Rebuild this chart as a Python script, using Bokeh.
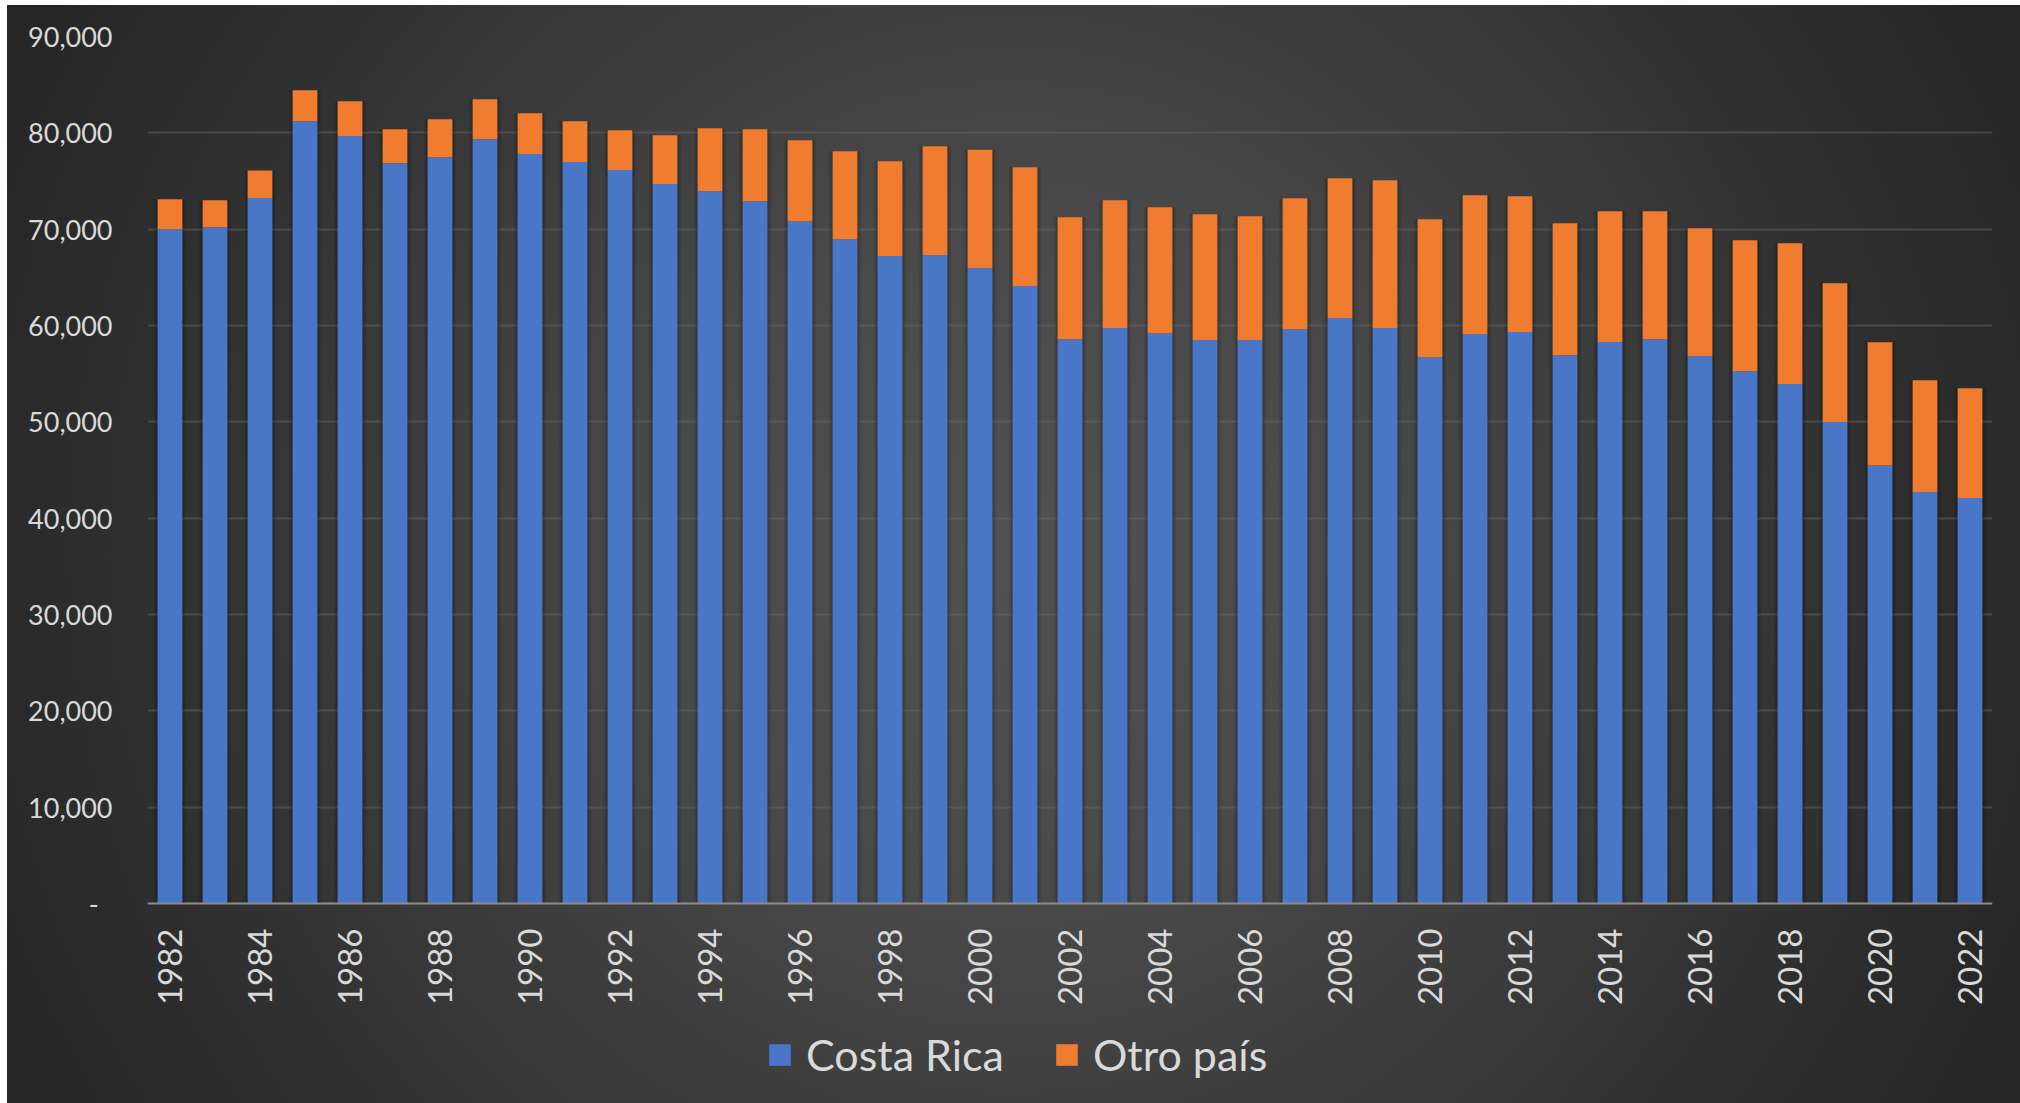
import math
import numpy as np
from bokeh.plotting import figure
from bokeh.models import (ColumnDataSource, Range1d, FixedTicker, NumeralTickFormatter,
                          Legend, LegendItem, Span)
from bokeh.core.properties import value
from bokeh.embed import file_html
from bokeh.resources import INLINE

# ---------------- data ----------------
years = [1982, 1983, 1984, 1985, 1986, 1987, 1988, 1989, 1990, 1991,
         1992, 1993, 1994, 1995, 1996, 1997, 1998, 1999, 2000, 2001,
         2002, 2003, 2004, 2005, 2006, 2007, 2008, 2009, 2010, 2011,
         2012, 2013, 2014, 2015, 2016, 2017, 2018, 2019, 2020, 2021, 2022]

costa_rica = [70000, 70200, 73240, 81200, 79680, 76840, 77470, 79330, 77810, 76980,
              76150, 74700, 73940, 72900, 70820, 68950, 67220, 67290, 65970, 64100,
              58570, 59740, 59190, 58490, 58490, 59600, 60770, 59740, 56700, 59110,
              59320, 56900, 58280, 58570, 56830, 55240, 53920, 49980, 45480, 42710, 42090]

otro_pais = [3100, 2800, 2860, 3230, 3600, 3530, 3940, 4160, 4230, 4230,
             4120, 5050, 6540, 7470, 8410, 9140, 9830, 11310, 12280, 12330,
             12670, 13260, 13080, 13050, 12840, 13610, 14520, 15340, 14330, 14410,
             14100, 13710, 13580, 13290, 13260, 13600, 14620, 14400, 12780, 11600, 11390]

series_names = ["Costa Rica", "Otro país"]
x_tick_years = [1982, 1984, 1986, 1988, 1990, 1992, 1994, 1996, 1998, 2000, 2002,
                2004, 2006, 2008, 2010, 2012, 2014, 2016, 2018, 2020, 2022]
x_tick_labels = ["1982", "1984", "1986", "1988", "1990", "1992", "1994", "1996", "1998",
                 "2000", "2002", "2004", "2006", "2008", "2010", "2012", "2014", "2016",
                 "2018", "2020", "2022"]
y_ticks = [0, 10000, 20000, 30000, 40000, 50000, 60000, 70000, 80000, 90000]
zero_label = "-\u00a0\u00a0"

# ---------------- layout constants ----------------
FONT = "Lato"
LABEL = "#d9d9d9"
W, H = 2013, 1098
TOP, LEFT, RIGHT = 31, 140, 28
PLOT_H = 867            # pixel height from 0 to 90,000
BELOW = H - TOP - PLOT_H  # space under the zero line (labels + legend)

y_max = y_ticks[-1]
y_min = -y_max * BELOW / PLOT_H

source = ColumnDataSource(dict(
    year=years,
    costa=costa_rica,
    otro=otro_pais,
    total=list(np.array(costa_rica) + np.array(otro_pais)),
))
tick_source = ColumnDataSource(dict(x=x_tick_years, y=[0] * len(x_tick_years), label=x_tick_labels))

p = figure(width=W, height=H, output_backend="svg", toolbar_location=None,
           x_range=Range1d(years[0] - 0.5, years[-1] + 0.5),
           y_range=Range1d(y_min, y_max),
           x_axis_location=None,
           min_border_left=LEFT, min_border_right=RIGHT, min_border_top=TOP,
           min_border_bottom=0,
           styles={"background": "radial-gradient(circle 1100px at 50% 50%, #515151 0%, #494949 32%, #2f2f2f 80%, #262626 100%)",
                   "margin-left": "7px", "margin-top": "5px"})
p.background_fill_color = None
p.border_fill_color = None
p.outline_line_color = None

# soft shadows behind bars
p.vbar(x="year", top="total", bottom=0, width=0.72, source=source,
       fill_color="black", fill_alpha=0.08, line_color=None)
p.vbar(x="year", top="total", bottom=0, width=0.64, source=source,
       fill_color="black", fill_alpha=0.14, line_color=None)

renderers = p.vbar_stack(["costa", "otro"], x="year", width=0.55, source=source,
                         color=["#4a76c8", "#f07c30"], line_color=None)

# grid
p.xgrid.grid_line_color = None
p.ygrid.ticker = FixedTicker(ticks=y_ticks[1:])
p.ygrid.grid_line_color = "#6a6a6a"
p.ygrid.grid_line_alpha = 0.45
p.ygrid.grid_line_width = 2
p.ygrid.level = "underlay"

# category axis line at zero
p.add_layout(Span(location=0, dimension="width", line_color="#8c8c8c", line_width=2))

# x tick labels (vertical, reading upward)
p.text(x="x", y="y", text="label", source=tick_source, angle=math.pi / 2,
       text_align="right", text_baseline="middle", y_offset=25,
       text_font=value(FONT), text_font_size="33px", text_color=LABEL)

# y axis
p.yaxis.ticker = FixedTicker(ticks=y_ticks)
p.yaxis.formatter = NumeralTickFormatter(format="0,0")
p.yaxis.major_label_overrides = {0: zero_label}
p.yaxis.axis_line_color = None
p.yaxis.major_tick_line_color = None
p.yaxis.minor_tick_line_color = None
p.yaxis.major_label_standoff = 29
p.yaxis.major_label_text_font = FONT
p.yaxis.major_label_text_font_size = "27px"
p.yaxis.major_label_text_color = LABEL

# legend
legend = Legend(items=[LegendItem(label=series_names[0], renderers=[renderers[0]]),
                       LegendItem(label=series_names[1], renderers=[renderers[1]])],
                orientation="horizontal", location=(619, 23))
legend.background_fill_color = None
legend.border_line_color = None
legend.label_text_font = FONT
legend.label_text_font_size = "43px"
legend.label_text_color = LABEL
legend.glyph_width = 27
legend.glyph_height = 27
legend.label_standoff = 13
legend.spacing = 49
legend.padding = 10
legend.margin = 0
p.add_layout(legend, "center")

open("out.html", "w").write(file_html(p, INLINE))
